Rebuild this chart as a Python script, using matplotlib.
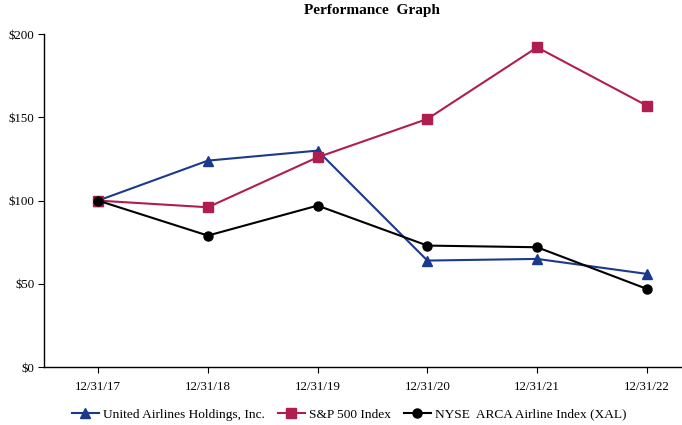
import numpy as np
import matplotlib
matplotlib.use("Agg")
import matplotlib.pyplot as plt

dates = ["12/31/17", "12/31/18", "12/31/19", "12/31/20", "12/31/21", "12/31/22"]
ual = [100, 124, 130, 64, 65, 56]
sp500 = [100, 96, 126, 149, 192, 157]
xal = [100, 79, 97, 73, 72, 47]
yticks = [0, 50, 100, 150, 200]

plt.rcParams["font.family"] = ["Liberation Serif", "DejaVu Serif"]

fig = plt.figure(figsize=(6.82, 4.25), dpi=100)
ax = fig.add_axes([0.065, 0.136, 0.935, 0.784])

x = np.arange(len(dates))
ax.plot(x, ual, color="#1b3a8c", lw=1.5, marker="^", ms=7,
        label="United Airlines Holdings, Inc.")
ax.plot(x, sp500, color="#b01e4f", lw=1.5, marker="s", ms=6.5,
        label="S&P 500 Index")
ax.plot(x, xal, color="black", lw=1.5, marker="o", ms=6.5,
        label="NYSE  ARCA Airline Index (XAL)")

ax.set_xlim(-0.49, 5.32)
ax.set_ylim(0, 200)
ax.set_xticks(x)
ax.set_xticklabels(dates, fontsize=9.3)
ax.set_yticks(yticks)
ax.set_yticklabels(["$%d" % v for v in yticks], fontsize=9.3)
ax.tick_params(axis="x", length=4, width=0.8, pad=6)
ax.tick_params(axis="y", length=4, width=0.8, pad=3)
for s in ["top", "right"]:
    ax.spines[s].set_visible(False)
for s in ["left", "bottom"]:
    ax.spines[s].set_linewidth(1.0)

fig.text(0.545, 0.976, "Performance  Graph", fontsize=11, fontweight="bold",
         ha="center", va="center")

fig.legend(loc="lower center", bbox_to_anchor=(0.512, -0.018), ncol=3,
           frameon=False, fontsize=9.6, handlelength=2.0, handletextpad=0.3,
           columnspacing=1.0)

fig.savefig("out.png", dpi=100)
